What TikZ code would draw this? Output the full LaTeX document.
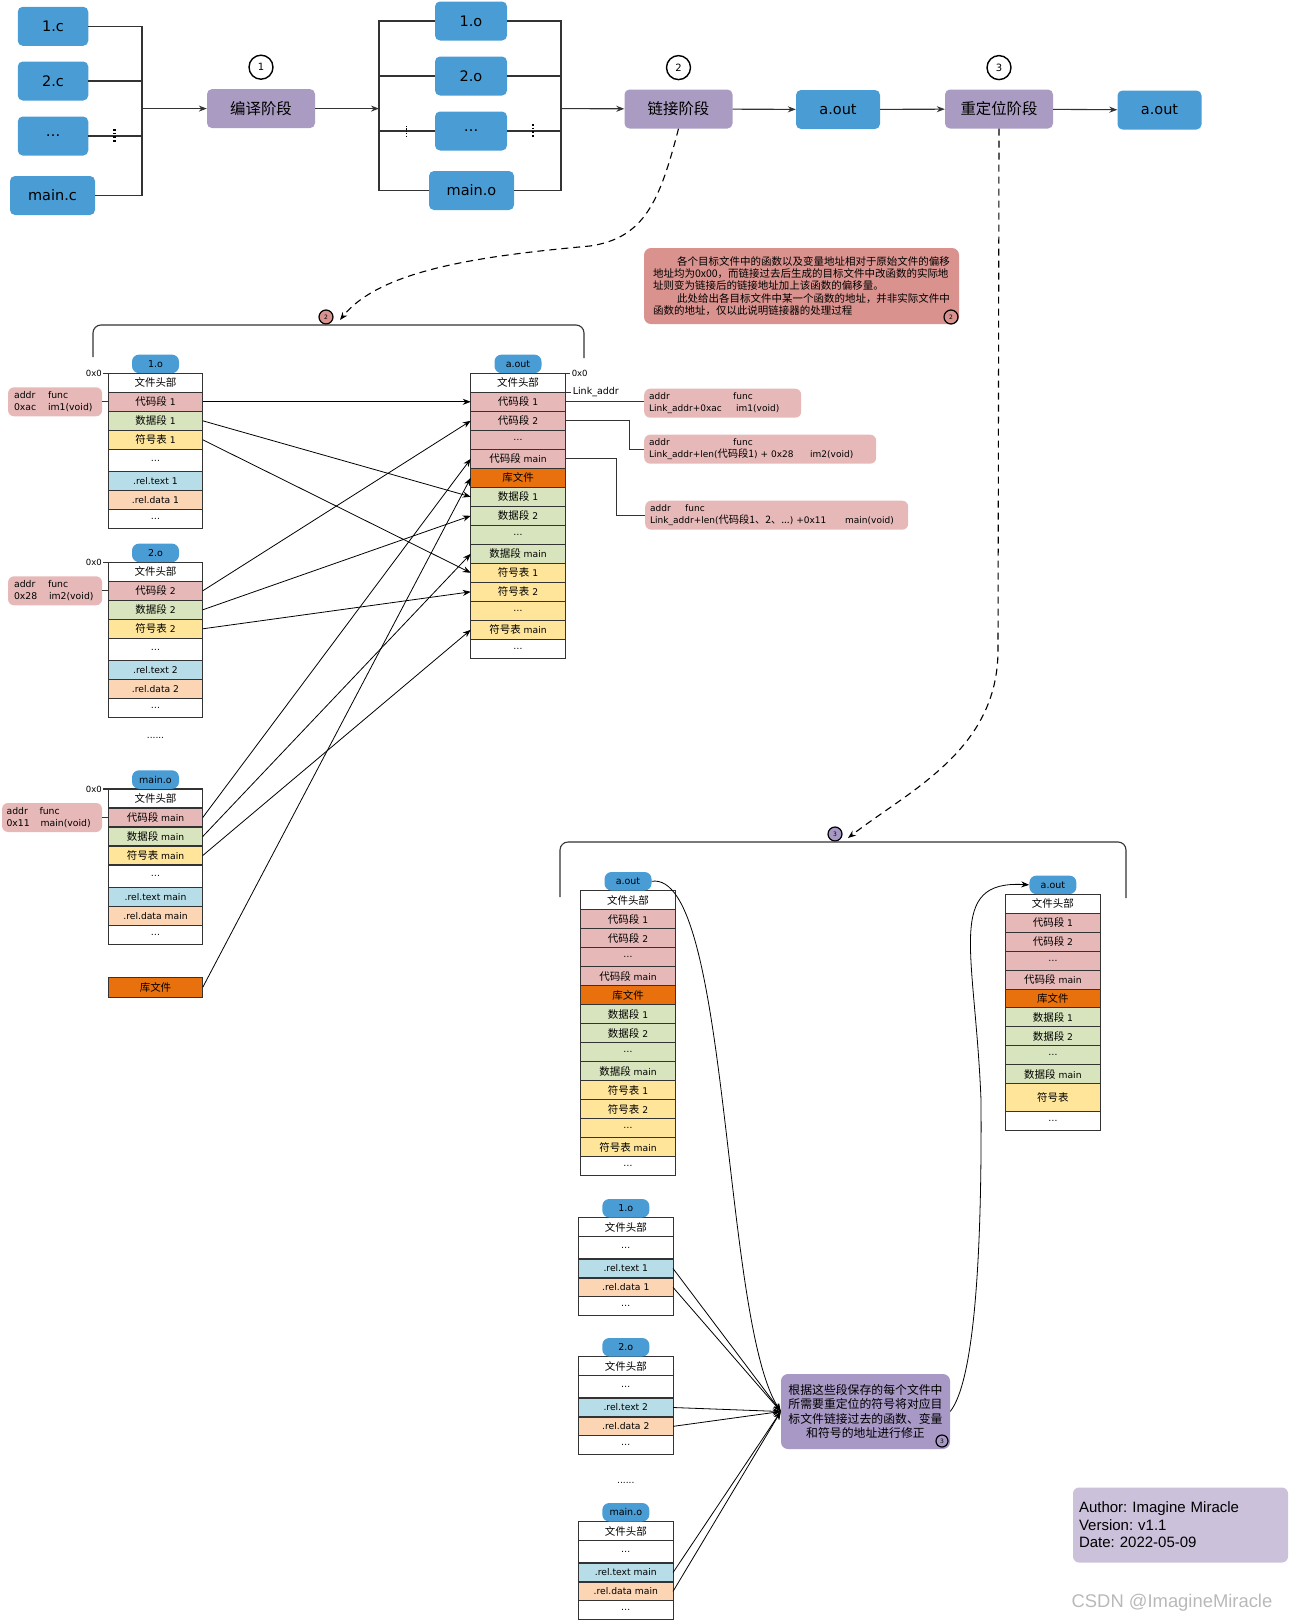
\documentclass[tikz,border=0pt]{standalone}
\usepackage{fontspec}
\setmainfont{DejaVu Sans}
\newfontfamily\cjk{Noto Sans CJK SC}[Scale=1.14]
\newfontfamily\arialf{Liberation Sans}
\usetikzlibrary{positioning,arrows.meta,calc}
\frenchspacing

\definecolor{fileblue}{HTML}{4A9CD5}
\definecolor{stagepurple}{HTML}{A99BC1}
\definecolor{notered}{HTML}{D9928E}
\definecolor{notepurple}{HTML}{A898C6}
\definecolor{authorc}{HTML}{CCC1DA}
\definecolor{codec}{HTML}{E6B9B8}
\definecolor{datac}{HTML}{D7E4BD}
\definecolor{symc}{HTML}{FEE59A}
\definecolor{reltc}{HTML}{B7DDE8}
\definecolor{reldc}{HTML}{FCD5B5}
\definecolor{libc}{HTML}{E8710E}
\definecolor{linec}{HTML}{333333}

\newcommand{\zh}[1]{{\cjk #1}}
\newcommand{\twocol}[3]{\makebox[#1][l]{#2}#3}

% one section table: name, top centre, rows as text/colour/height
\newcommand{\segtable}[3]{%
  \coordinate (#1-0) at (#2);
  \foreach \txt/\rc/\rh [count=\i] in {#3} {
    \pgfmathtruncatemacro{\j}{\i-1}
    \node[seg, fill=\rc, minimum height=\rh pt, below=0pt of #1-\j] (#1-\i) {\txt};
  }%
}

\tikzset{
  seg/.style={draw=linec, line width=1.1pt, minimum width=94.5pt, inner sep=0pt, outer sep=0pt, font=\fontsize{9.2}{11}\selectfont},
  filetag/.style={fill=fileblue, rounded corners=7pt, minimum width=47pt, minimum height=18.5pt, inner sep=0pt, font=\fontsize{9.5}{11}\selectfont},
  filebox/.style={fill=fileblue, rounded corners=5pt, minimum height=39pt, inner sep=0pt, font=\fontsize{14.5}{16}\selectfont},
  stage/.style={fill=stagepurple, rounded corners=5pt, minimum width=108pt, minimum height=39pt, inner sep=0pt, font=\fontsize{13.5}{16}\selectfont},
  numc/.style={circle, draw, line width=1.4pt, fill=white, minimum size=24pt, inner sep=0pt, font=\fontsize{10}{12}\selectfont},
  smallnum/.style={circle, draw, line width=1.2pt, minimum size=14pt, inner sep=0pt, font=\fontsize{6}{7}\selectfont},
  addrbox/.style={fill=codec, rounded corners=6pt, minimum height=29pt, inner xsep=6pt, inner ysep=0pt, align=left, font=\fontsize{9.3}{12.5}\selectfont},
  offs/.style={font=\fontsize{8.5}{10}\selectfont, inner sep=1pt},
  conn/.style={draw=linec, line width=1.1pt},
  linkline/.style={draw=black, line width=0.8pt, ->},
  dashlink/.style={line width=1.1pt, dash pattern=on 7pt off 5pt, ->},
  vdots/.style={line width=2.4pt, dash pattern=on 1.8pt off 1.8pt},
}

\begin{document}
\begin{tikzpicture}[x=1pt, y=-1pt, >={Stealth[length=8pt,width=6pt]}]
  \useasboundingbox (0,0) rectangle (1289,1622);

  % top row
  \node[filebox, minimum width=70.5pt] (c1) at (53,26.3) {1.c};
  \node[filebox, minimum width=70.5pt] (c2) at (53,81) {2.c};
  \node[filebox, minimum width=70.5pt] (c3) at (53,136) {\ldots};
  \node[filebox, minimum width=85pt] (cm) at (52.5,195.5) {main.c};
  \node[stage] (compile) at (261,108.6) {\zh{编译阶段}};
  \node[filebox, minimum width=72pt] (o1) at (471,21) {1.o};
  \node[filebox, minimum width=72pt] (o2) at (471,76) {2.o};
  \node[filebox, minimum width=72pt] (o3) at (471,131) {\ldots};
  \node[filebox, minimum width=85pt] (om) at (471.5,190.5) {main.o};
  \node[stage] (link) at (678.5,109) {\zh{链接阶段}};
  \node[filebox, minimum width=84pt] (aout1) at (838,109.5) {a.out};
  \node[stage] (reloc) at (999,109) {\zh{重定位阶段}};
  \node[filebox, minimum width=84pt] (aout2) at (1159.5,110) {a.out};
  \node[numc, above=9pt of compile] (n1) {1};
  \node[numc, above=9pt of link] (n2) {2};
  \node[numc, above=9pt of reloc] (n3) {3};

  \coordinate (cjoin) at (142,108.6);
  \coordinate (ojoinL) at (379,108.6);
  \coordinate (ojoinR) at (561,108.6);
  \foreach \n in {c1,c2,c3,cm} \draw[conn] (\n.east) -| (cjoin);
  \foreach \n in {o1,o2,o3,om} \draw[conn] (\n.west) -| (ojoinL);
  \foreach \n in {o1,o2,o3,om} \draw[conn] (\n.east) -| (ojoinR);
  \draw[vdots] ($(c3.east)+(26,-7)$) -- ++(0,14);
  \draw[vdots] ($(o3.east)+(26,-7)$) -- ++(0,14);
  \draw[line width=1.2pt, dash pattern=on 1.2pt off 1.2pt] ($(o3.west)+(-28,-5)$) -- ++(0,10);
  \draw[conn, ->] (cjoin) -- (compile);
  \draw[conn, ->] (compile) -- (ojoinL);
  \draw[conn, ->] (ojoinR) -- (link);
  \draw[conn, ->] (link) -- (aout1);
  \draw[conn, ->] (aout1) -- (reloc);
  \draw[conn, ->] (reloc) -- (aout2);

  % link stage
  \node[smallnum, fill=notered] (lc2) at (326,317) {2};
  \coordinate (linkend) at (340,320);
  \draw[dashlink] (link.south) .. controls (660,200) and (645,238) .. (590,246) .. controls (480,256) and (380,270) .. (linkend);
  \draw[conn, rounded corners=8pt] (93,357) |- (584,325) -- (584,358);

  \node[fill=notered, rounded corners=7pt, minimum width=315pt, minimum height=76pt, inner sep=0pt, align=left,
        font=\cjk\fontsize{9.2}{12.3}\selectfont] (linknote) at (801.5,286)
    {\hspace*{2.3em}各个目标文件中的函数以及变量地址相对于原始文件的偏移\\
     地址均为0x00，而链接过去后生成的目标文件中改函数的实际地\\
     址则变为链接后的链接地址加上该函数的偏移量。\\
     \hspace*{2.3em}此处给出各目标文件中某一个函数的地址，并非实际文件中\\
     函数的地址，仅以此说明链接器的处理过程};
  \node[smallnum, fill=notered] (nc2) at (951,317) {2};

  \segtable{o1t}{155.5,373.3}{\zh{文件头部}/white/19, \zh{代码段} 1/codec/19, \zh{数据段} 1/datac/19, \zh{符号表} 1/symc/19, \ldots/white/22.4, .rel.text 1/reltc/19, .rel.data 1/reldc/19, \ldots/white/19}
  \segtable{o2t}{155.5,562.3}{\zh{文件头部}/white/19, \zh{代码段} 2/codec/19, \zh{数据段} 2/datac/19, \zh{符号表} 2/symc/19, \ldots/white/22.4, .rel.text 2/reltc/19, .rel.data 2/reldc/19, \ldots/white/19}
  \segtable{omt}{155.5,789}{\zh{文件头部}/white/19, \zh{代码段} main/codec/19, \zh{数据段} main/datac/19, \zh{符号表} main/symc/19, \ldots/white/22.4, .rel.text main/reltc/19, .rel.data main/reldc/19, \ldots/white/19}
  \node[seg, fill=libc, minimum height=20pt] (lib) at (155.5,987.3) {\zh{库文件}};
  \node[font=\fontsize{9}{10}\selectfont] (more1) at (155.5,738) {......};
  \segtable{aout}{518,373.3}{\zh{文件头部}/white/19, \zh{代码段} 1/codec/19, \zh{代码段} 2/codec/19, \ldots/codec/19, \zh{代码段} main/codec/19, \zh{库文件}/libc/19, \zh{数据段} 1/datac/19, \zh{数据段} 2/datac/19, \ldots/datac/19, \zh{数据段} main/datac/19, \zh{符号表} 1/symc/19, \zh{符号表} 2/symc/19, \ldots/symc/19, \zh{符号表} main/symc/19, \ldots/white/19}

  \node[filetag, above=0pt of o1t-1] (o1tag) {1.o};
  \node[filetag, above=0pt of o2t-1] (o2tag) {2.o};
  \node[filetag, above=0pt of omt-1] (omtag) {main.o};
  \node[filetag, above=0pt of aout-1] (aouttag) {a.out};
  \draw[conn] (o1t-1.north west) -- ++(-5,0) node[left, offs] (z1) {0x0};
  \draw[conn] (o2t-1.north west) -- ++(-5,0) node[left, offs] (z2) {0x0};
  \draw[conn] (omt-1.north west) -- ++(-5,0) node[left, offs] (zm) {0x0};
  \draw[conn] (aout-1.north east) -- ++(5,0) node[right, offs] (za) {0x0};
  \draw[conn] (aout-1.south east) -- ++(6,0) node[right, offs, font=\fontsize{9.5}{11}\selectfont] (la) {Link\_addr};

  \node[addrbox, text width=82pt, left=6pt of o1t-2] (a1) {\twocol{34pt}{addr}{func}\\\twocol{34pt}{0xac}{im1(void)}};
  \node[addrbox, text width=82pt, left=6pt of o2t-2] (a2) {\twocol{34pt}{addr}{func}\\\twocol{35pt}{0x28}{im2(void)}};
  \node[addrbox, text width=91pt, inner xsep=4.5pt, left=6pt of omt-2] (am) {\twocol{33pt}{addr}{func}\\\twocol{34pt}{0x11}{main(void)}};
  \foreach \n/\r in {a1/o1t-2, a2/o2t-2, am/omt-2} \draw[conn] (\n.east) -- (\r.west);

  \node[addrbox, font=\fontsize{9}{12.5}\selectfont, inner xsep=5pt, text width=147pt, anchor=west] (ra1) at (644,403.2)
    {\twocol{84pt}{addr}{func}\\\twocol{87pt}{Link\_addr+0xac}{im1(void)}};
  \node[addrbox, font=\fontsize{9}{12.5}\selectfont, inner xsep=5pt, text width=222pt, anchor=west] (ra2) at (644,449.2)
    {\twocol{84pt}{addr}{func}\\\twocol{161pt}{Link\_addr+len(\zh{代码段1}) + 0x28}{im2(void)}};
  \node[addrbox, font=\fontsize{9}{12.5}\selectfont, inner xsep=5pt, text width=253pt, anchor=west] (ra3) at (645,515.2)
    {\twocol{35pt}{addr}{func}\\\twocol{195pt}{Link\_addr+len(\zh{代码段1、2、...}) +0x11}{main(void)}};
  \draw[conn] (aout-2.east) -- (aout-2.east -| ra1.west);
  \draw[conn] (aout-3.east) -- ++(64,0) |- (ra2.west);
  \draw[conn] (aout-5.east) -- ++(51,0) |- (ra3.west);

  \foreach \a/\b in {o1t-2/aout-2, o1t-3/aout-7, o1t-4/aout-11, o2t-2/aout-3, o2t-3/aout-8, o2t-4/aout-12,
                     omt-2/aout-5, omt-3/aout-10, omt-4/aout-14, lib/aout-6}
    \draw[linkline] (\a.east) -- (\b.west);

  % relocation stage
  \node[smallnum, fill=notepurple] (rc3) at (835,834) {3};
  \coordinate (relocend) at (848,838);
  \draw[dashlink] (reloc.south) -- (998,650) .. controls (998,750) and (910,790) .. (relocend);
  \draw[conn, rounded corners=8pt] (560,897) |- (1126,842) -- (1126,898);

  \segtable{ba}{628,890.7}{\zh{文件头部}/white/19, \zh{代码段} 1/codec/19, \zh{代码段} 2/codec/19, \ldots/codec/19, \zh{代码段} main/codec/19, \zh{库文件}/libc/19, \zh{数据段} 1/datac/19, \zh{数据段} 2/datac/19, \ldots/datac/19, \zh{数据段} main/datac/19, \zh{符号表} 1/symc/19, \zh{符号表} 2/symc/19, \ldots/symc/19, \zh{符号表} main/symc/19, \ldots/white/19}
  \segtable{ra}{1052.9,894.3}{\zh{文件头部}/white/19, \zh{代码段} 1/codec/19, \zh{代码段} 2/codec/19, \ldots/codec/19, \zh{代码段} main/codec/19, \zh{库文件}/libc/18.4, \zh{数据段} 1/datac/19, \zh{数据段} 2/datac/19, \ldots/datac/19, \zh{数据段} main/datac/19, \zh{符号表}/symc/28, \ldots/white/19}
  \segtable{b1o}{625.8,1217.7}{\zh{文件头部}/white/19, \ldots/white/22.3, .rel.text 1/reltc/19, .rel.data 1/reldc/18.7, \ldots/white/19}
  \segtable{b2o}{625.8,1356.7}{\zh{文件头部}/white/19, \ldots/white/22.3, .rel.text 2/reltc/19, .rel.data 2/reldc/18.7, \ldots/white/19}
  \segtable{bmo}{625.8,1521.7}{\zh{文件头部}/white/19, \ldots/white/22.3, .rel.text main/reltc/19, .rel.data main/reldc/18.7, \ldots/white/19}
  \node[font=\fontsize{9}{10}\selectfont] (more2) at (625.8,1483) {......};
  \node[filetag, above=0pt of ba-1] (batag) {a.out};
  \node[filetag, above=0pt of ra-1] (ratag) {a.out};
  \node[filetag, above=0pt of b1o-1] (b1tag) {1.o};
  \node[filetag, above=0pt of b2o-1] (b2tag) {2.o};
  \node[filetag, above=0pt of bmo-1] (bmtag) {main.o};

  \node[fill=notepurple, rounded corners=7pt, minimum width=169pt, minimum height=75pt, inner sep=0pt, align=center,
        font=\cjk\fontsize{10.4}{14.3}\selectfont] (fix) at (865.5,1411.5)
    {根据这些段保存的每个文件中\\所需要重定位的符号将对应目\\标文件链接过去的函数、变量\\和符号的地址进行修正};
  \node[smallnum, fill=notepurple, minimum size=12pt] (fc3) at (942,1441) {3};
  \foreach \s in {b1o-3, b1o-4, b2o-3, b2o-4, bmo-3, bmo-4} \draw[linkline] (\s.east) -- (fix.west);
  \draw[linkline] (batag.east) .. controls (730,870) and (722,1320) .. (fix.west);
  \draw[linkline] (fix.east) .. controls (975,1380) and (982,1250) .. (981,1100) .. controls (975,950) and (945,880) .. (ratag.west);

  \node[fill=authorc, rounded corners=6pt, minimum height=75pt, text width=203pt, inner xsep=6pt, align=left,
        font=\arialf\fontsize{15}{17.4}\selectfont] (author) at (1180.5,1525)
    {Author: Imagine Miracle\\Version: v1.1\\Date: 2022-05-09};
  \node[font=\arialf\fontsize{18.4}{20}\selectfont, text=gray!55] (mark) at (1172,1603) {CSDN @ImagineMiracle};
\end{tikzpicture}
\end{document}
